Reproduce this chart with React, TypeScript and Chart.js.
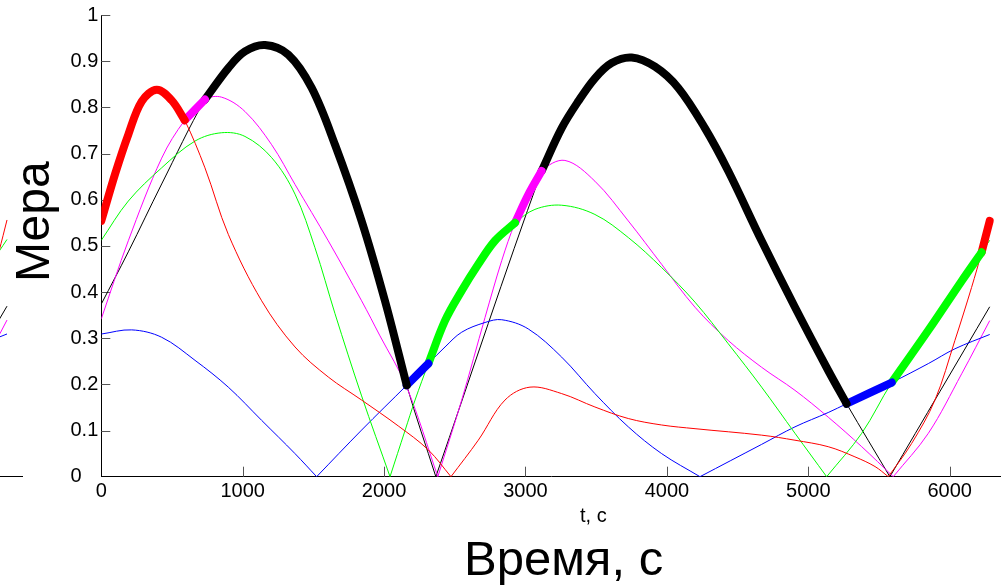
import React, { useEffect, useRef } from "react";
import { Chart, registerables } from "chart.js";

Chart.register(...registerables);

type P = { x: number; y: number };

// ---- data (time in s, measure 0..1) ----
const redT = [0, 97, 191, 286, 392, 498, 590, 733, 898, 1134, 1370, 1605, 1841, 2100, 2313, 2473, 2666, 2855, 3032, 3256, 3491, 3727, 3963, 4199, 4670, 4906, 5141, 5330, 5472, 5566, 5731, 5896, 6037, 6155, 6226, 6283];
const redV = [0.554, 0.655, 0.741, 0.813, 0.838, 0.815, 0.772, 0.669, 0.525, 0.381, 0.281, 0.216, 0.166, 0.11, 0.058, 0, 0.079, 0.166, 0.194, 0.18, 0.151, 0.126, 0.112, 0.104, 0.09, 0.079, 0.065, 0.043, 0.022, 0, 0.072, 0.166, 0.295, 0.41, 0.486, 0.554];

const greenT = [0, 191, 427, 663, 851, 1016, 1205, 1370, 1511, 1653, 1841, 2042, 2148, 2219, 2313, 2431, 2549, 2666, 2784, 2926, 3067, 3256, 3491, 3727, 3963, 4199, 4434, 4670, 4906, 5130, 5378, 5590, 5849, 6085, 6226, 6283];
const greenV = [0.512, 0.597, 0.669, 0.727, 0.745, 0.737, 0.691, 0.612, 0.496, 0.353, 0.175, 0, 0.1, 0.166, 0.245, 0.338, 0.403, 0.46, 0.511, 0.55, 0.579, 0.588, 0.568, 0.518, 0.453, 0.378, 0.288, 0.194, 0.094, 0, 0.094, 0.204, 0.317, 0.424, 0.486, 0.512];

const blueT = [0, 215, 427, 663, 898, 1134, 1370, 1523, 1841, 2160, 2313, 2431, 2549, 2714, 2832, 3020, 3256, 3491, 3727, 3963, 4234, 4670, 4906, 5141, 5271, 5590, 5849, 6037, 6283];
const blueV = [0.309, 0.318, 0.302, 0.252, 0.194, 0.122, 0.05, 0, 0.101, 0.198, 0.245, 0.281, 0.313, 0.334, 0.34, 0.32, 0.259, 0.18, 0.108, 0.05, 0, 0.07, 0.108, 0.139, 0.158, 0.204, 0.245, 0.277, 0.308];

const magentaT = [0, 191, 427, 590, 733, 851, 1016, 1205, 1370, 1605, 1841, 1971, 2160, 2380, 2549, 2714, 2832, 2926, 3020, 3114, 3279, 3491, 3727, 3963, 4199, 4434, 4670, 4906, 5141, 5378, 5601, 5849, 6085, 6283];
const magentaV = [0.342, 0.511, 0.69, 0.772, 0.817, 0.822, 0.791, 0.719, 0.633, 0.511, 0.381, 0.305, 0.194, 0, 0.166, 0.345, 0.468, 0.55, 0.611, 0.662, 0.685, 0.64, 0.554, 0.46, 0.367, 0.295, 0.237, 0.187, 0.129, 0.065, 0, 0.094, 0.223, 0.338];

const blackT = [0, 191, 427, 733, 898, 1016, 1158, 1323, 1488, 1653, 1841, 2006, 2160, 2366, 3114, 3256, 3373, 3491, 3609, 3751, 3916, 4081, 4269, 4434, 4670, 4906, 5141, 5271, 5577, 6283];
const blackV = [0.374, 0.487, 0.634, 0.817, 0.885, 0.921, 0.935, 0.914, 0.842, 0.719, 0.554, 0.381, 0.198, 0, 0.662, 0.755, 0.813, 0.863, 0.896, 0.908, 0.888, 0.842, 0.755, 0.662, 0.511, 0.367, 0.23, 0.158, 0, 0.368];

const seriesNames = ["red", "green", "blue", "magenta", "black"];
const seriesColors = ["#ff0000", "#00ff00", "#0000ff", "#ff00ff", "#000000"];
const seriesT = [redT, greenT, blueT, magentaT, blackT];
const seriesV = [redV, greenV, blueV, magentaV, blackV];

// upper envelope: which series is highest between consecutive break times
const envSeries = ["red", "magenta", "black", "blue", "green", "magenta", "black", "blue", "green", "red"];
const envBreaks = [0, 590, 733, 2160, 2313, 2926, 3114, 5271, 5590, 6226, 6283];

const xTicks = [0, 1000, 2000, 3000, 4000, 5000, 6000];
const yTicks = [0, 0.1, 0.2, 0.3, 0.4, 0.5, 0.6, 0.7, 0.8, 0.9, 1];

const FONT = '"Liberation Sans", Arial, Helvetica, sans-serif';

function pieces(t: number[], v: number[]): P[][] {
  const out: P[][] = [];
  let cur: P[] = [];
  for (let i = 0; i < t.length; i++) {
    const p = { x: t[i], y: v[i] };
    cur.push(p);
    if (v[i] === 0 && i > 0 && i < t.length - 1) {
      out.push(cur);
      cur = [p];
    }
  }
  out.push(cur);
  return out;
}

function thinDatasets() {
  const ds: any[] = [];
  seriesNames.forEach((_, k) => {
    pieces(seriesT[k], seriesV[k]).forEach((data) => {
      ds.push({
        data,
        borderColor: seriesColors[k],
        borderWidth: 1,
        pointRadius: 0,
        fill: false,
        tension: 0.35,
        order: 1,
      });
    });
  });
  return ds;
}

function thickDatasets() {
  const ds: any[] = [];
  envSeries.forEach((name, i) => {
    const k = seriesNames.indexOf(name);
    const t0 = envBreaks[i];
    const t1 = envBreaks[i + 1];
    const data: P[] = [];
    seriesT[k].forEach((t, j) => {
      if (t >= t0 && t <= t1) data.push({ x: t, y: seriesV[k][j] });
    });
    ds.push({
      data,
      borderColor: seriesColors[k],
      borderWidth: 8,
      borderCapStyle: "round",
      borderJoinStyle: "round",
      pointRadius: 0,
      fill: false,
      tension: 0.35,
      order: 0,
    });
  });
  return ds;
}

const innerTicks = {
  id: "innerTicks",
  beforeDatasetsDraw(chart: any) {
    const { ctx, chartArea, scales } = chart;
    const x = scales.x;
    const y = scales.y;
    ctx.save();
    ctx.strokeStyle = "#555";
    ctx.lineWidth = 1;
    ctx.beginPath();
    xTicks.forEach((t) => {
      if (t === 0) return;
      const px = Math.round(x.getPixelForValue(t)) + 0.5;
      ctx.moveTo(px, chartArea.bottom);
      ctx.lineTo(px, chartArea.bottom - 10);
    });
    yTicks.forEach((v) => {
      if (v === 0) return;
      const py = Math.round(y.getPixelForValue(v)) + 0.5;
      ctx.moveTo(chartArea.left, py);
      ctx.lineTo(chartArea.left + 9, py);
    });
    ctx.stroke();
    ctx.restore();
  },
};

function mainConfig(): any {
  return {
    type: "line",
    data: { datasets: [...thickDatasets(), ...thinDatasets()] },
    options: {
      animation: false,
      responsive: false,
      maintainAspectRatio: false,
      layout: { padding: { top: 13.3, left: 0, right: 0, bottom: 0 } },
      plugins: { legend: { display: false }, tooltip: { enabled: false } },
      elements: { point: { radius: 0 } },
      scales: {
        x: {
          type: "linear",
          min: 0,
          max: 6363,
          afterFit: (s: any) => {
            s.height = 110.3;
          },
          afterBuildTicks: (s: any) => {
            s.ticks = xTicks.map((value) => ({ value }));
          },
          ticks: {
            color: "#000",
            font: { family: FONT, size: 20 },
            padding: 3,
            maxRotation: 0,
            autoSkip: false,
            callback: (v: any) => String(v),
          },
          grid: { drawOnChartArea: false, drawTicks: false },
          border: { color: "#000", width: 1 },
        },
        y: {
          type: "linear",
          min: 0,
          max: 1,
          afterFit: (s: any) => {
            s.width = 101.3;
          },
          afterBuildTicks: (s: any) => {
            s.ticks = yTicks.map((value) => ({ value }));
          },
          ticks: {
            color: "#000",
            font: { family: FONT, size: 20 },
            padding: 3,
            autoSkip: false,
            callback: (v: any) => (v === 0 ? "0   " : String(Math.round(v * 10) / 10)),
          },
          grid: { drawOnChartArea: false, drawTicks: false },
          border: { color: "#000", width: 1 },
        },
      },
    },
    plugins: [innerTicks],
  };
}

// tail of the neighbouring panel cut by the left edge of the picture
function fragmentConfig(): any {
  return {
    type: "line",
    data: { datasets: thinDatasets() },
    options: {
      animation: false,
      responsive: false,
      maintainAspectRatio: false,
      layout: { padding: { top: 13.3, left: 0, right: 0, bottom: 0 } },
      plugins: { legend: { display: false }, tooltip: { enabled: false } },
      elements: { point: { radius: 0 } },
      scales: {
        x: {
          type: "linear",
          min: 6233.5,
          max: 6396,
          afterFit: (s: any) => {
            s.height = 110.3;
          },
          ticks: { display: false },
          grid: { drawOnChartArea: false, drawTicks: false },
          border: { color: "#000", width: 1 },
        },
        y: { type: "linear", min: 0, max: 1, display: false },
      },
    },
  };
}

function ChartCanvas({ width, height, make }: { width: number; height: number; make: () => any }) {
  const ref = useRef<HTMLCanvasElement | null>(null);
  useEffect(() => {
    if (!ref.current) return;
    const chart = new Chart(ref.current, make());
    return () => chart.destroy();
  }, []);
  return (
    <canvas
      ref={ref}
      width={width}
      height={height}
      style={{ position: "absolute", left: 0, top: 0, width, height }}
    />
  );
}

export default function App() {
  return (
    <div
      style={{
        position: "fixed",
        left: 0,
        top: 0,
        width: 1001,
        height: 587,
        overflow: "hidden",
        background: "#fff",
      }}
    >
      <ChartCanvas width={23} height={587} make={fragmentConfig} />
      <ChartCanvas width={1001} height={587} make={mainConfig} />
      <div
        style={{
          position: "absolute",
          left: 9.4,
          top: 281.5,
          transformOrigin: "0 0",
          transform: "rotate(-90deg)",
          fontFamily: FONT,
          fontSize: 48,
          lineHeight: "48px",
          whiteSpace: "nowrap",
          color: "#000",
        }}
      >
        Мера
      </div>
      <div
        style={{
          position: "absolute",
          left: 580,
          top: 505,
          fontFamily: FONT,
          fontSize: 20,
          lineHeight: "20px",
          whiteSpace: "nowrap",
          color: "#000",
        }}
      >
        t, c
      </div>
      <div
        style={{
          position: "absolute",
          left: 464,
          top: 533.5,
          fontFamily: FONT,
          fontSize: 49,
          lineHeight: "49px",
          whiteSpace: "nowrap",
          color: "#000",
        }}
      >
        Время, с
      </div>
    </div>
  );
}
